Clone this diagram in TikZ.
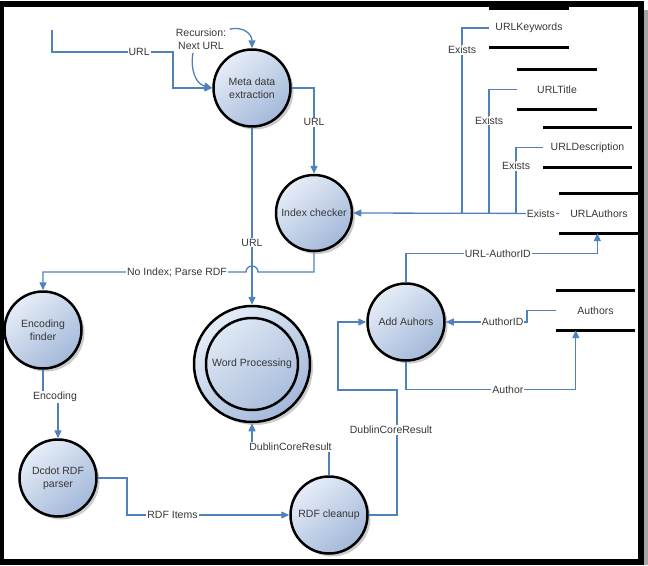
\documentclass[tikz,border=0pt]{standalone}
\usepackage{fontspec}
\setmainfont{Liberation Sans}
\usepackage{tikz}
\usetikzlibrary{positioning, shapes.geometric, arrows.meta, shadows}

\definecolor{flowblue}{RGB}{79,129,189}
\definecolor{bubtop}{RGB}{230,237,247}
\definecolor{bubbot}{RGB}{163,184,217}
\definecolor{txtgray}{RGB}{55,55,55}

\begin{document}
\begin{tikzpicture}[x=1pt, y=-1pt, >={Triangle[length=8pt,width=7pt]},
  font=\fontsize{10.5}{13}\selectfont, text=txtgray]

% Define block styles
\tikzstyle{proc} = [draw=black, circle, line width=2.5pt, minimum size=77pt, inner sep=0pt, align=center,
  top color=bubtop, bottom color=bubbot, shading angle=40,
  drop shadow={shadow xshift=3pt, shadow yshift=-3pt, opacity=0.2, fill=black}]
\tikzstyle{store} = [minimum width=79pt, minimum height=39pt, inner sep=0pt]
\tikzstyle{bar} = [draw=black, line width=3pt]
\tikzstyle{flow} = [draw=flowblue, line width=1.3pt, ->]
\tikzstyle{lbl} = [fill=white, inner sep=1pt]

% Frame
\useasboundingbox (0,0) rectangle (648,565);
\fill [black!35] (643,10) rectangle (648,565);
\draw [line width=6pt] (0.5,3.5) rectangle (641,562);

% Nodes
\node [proc] (meta) at (252,88) {Meta data\\extraction};
\node [proc, minimum size=76pt] (idx) at (314,213) {Index checker};
\node [proc, below of=meta, node distance=276pt, minimum size=116pt] (wp) {}; % outer ring
\node [draw=black, circle, line width=2.5pt, minimum size=92pt, inner sep=0pt] (wpin) at (wp) {Word Processing};
\node [proc] (enc) at (43,330) {Encoding\\finder};
\node [proc] (dcdot) at (58,478) {Dcdot RDF\\parser};
\node [proc] (clean) at (329,515) {RDF cleanup};
\node [proc] (add) at (406,322) {Add Auhors};
\node [align=center] (rec) at (201,39) {Recursion:\\Next URL};

% Data stores
\node [store] (kw) at (529,28) {URLKeywords};
\node [store, minimum width=80pt] (title) at (557,89.5) {URLTitle};
\node [store, minimum width=89pt] (desc) at (587.5,147.5) {URLDescription};
\node [store] (urlau) at (599,213.5) {URLAuthors};
\node [store] (authors) at (595.5,310.5) {Authors};
\foreach \s in {kw,title,desc,urlau,authors}
  \draw [bar] (\s.north west) -- (\s.north east) (\s.south west) -- (\s.south east);

\coordinate (start) at (52,30);
\coordinate (j1) at (462,213);
\coordinate (j2) at (489,213);
\coordinate (j3) at (516,213);

% Connections
\draw [flow] (start) |- node[lbl, pos=0.86] {URL} (173,52) |- (meta.west);
\draw [flow] ([yshift=-4pt]rec.north east) .. controls (243,26) and (252,34) .. (meta.north); % recursion
\draw [flow] ([xshift=-8pt]rec.south) .. controls (190,70) and (196,84) .. (meta.west);
\draw [flow] (meta.east) -| node[lbl, pos=0.7] {URL} (idx.north);
\draw [flow] (meta.south) -- node[lbl, pos=0.65] {URL} (wp.north);
\draw [flow] (idx.south) |- (258,272) arc[start angle=0, end angle=180, radius=6pt]
  -| node[lbl, pos=0.17] {No Index; Parse RDF} (enc.north); % hop over URL line
\draw [flow] (enc.south) |- node[lbl, pos=0.9] {Encoding} (58,397) -- (dcdot.north);
\draw [flow] (dcdot.east) -| (127,515) -- node[lbl, pos=0.28] {RDF Items} (clean.west);
\draw [flow] (clean.north) |- node[lbl, pos=0.75] {DublinCoreResult} (252,447) -- (wp.south);
\draw [flow] (clean.east) -| node[lbl, pos=0.84, xshift=-6pt] {DublinCoreResult} (397,390) -| (338,322) -- (add.west);
\draw [flow] (authors.west) -| (527,322) -- node[lbl, pos=0.3] {AuthorID} (add.east);
\draw [flow] (add.south) -- ++(0,28) -| node[lbl, pos=0.3] {Author} ([xshift=20pt]authors.south west);
\draw [flow] (add.north) -- ++(0,-29) -| node[lbl, pos=0.24] {URL-AuthorID} ([xshift=38pt]urlau.south west);
\draw [flow] (urlau.west) -- node[lbl, pos=0.09] {Exists} (idx.east);
\draw [flow, -] (kw.west) -| node[lbl, pos=0.56] {Exists} (j1);
\draw [flow, -] (title.west) -| node[lbl, pos=0.625] {Exists} (j2);
\draw [flow, -] (desc.west) -| node[lbl, pos=0.64] {Exists} (j3);

\end{tikzpicture}
\end{document}
